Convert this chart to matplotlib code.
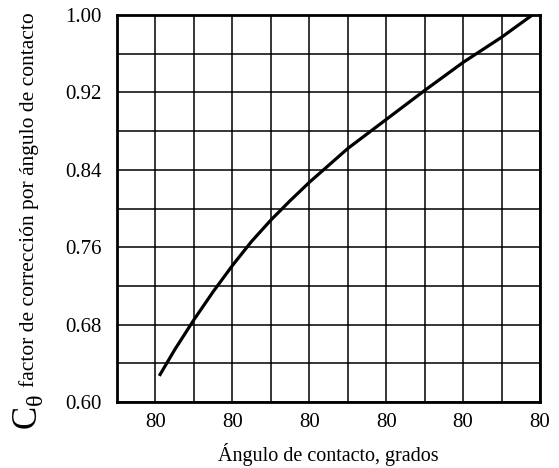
import matplotlib
matplotlib.use('Agg')
import matplotlib.pyplot as plt

plt.rcParams['font.family'] = ['Liberation Serif', 'DejaVu Serif']
plt.rcParams['mathtext.fontset'] = 'custom'
plt.rcParams['mathtext.rm'] = 'Liberation Serif'

# contact angle (deg) vs correction factor
angulo = [81, 85, 90, 95, 100, 105, 110, 115, 120, 130, 140, 150, 160, 170, 178]
c_theta = [0.627, 0.654, 0.685, 0.714, 0.741, 0.766, 0.788, 0.808, 0.827,
           0.862, 0.892, 0.922, 0.951, 0.977, 1.00]

x_ticks = [80, 100, 120, 140, 160, 180]
x_labels = ['80', '80', '80', '80', '80', '80']
y_ticks = [0.60, 0.68, 0.76, 0.84, 0.92, 1.00]
y_labels = ['0.60', '0.68', '0.76', '0.84', '0.92', '1.00']

fig = plt.figure(figsize=(5.59, 4.68), dpi=100)
ax = fig.add_axes([117/559, 1 - 402/468, 423/559, 387/468])

ax.plot(angulo, c_theta, color='black', linewidth=2.3,
        solid_joinstyle='round', solid_capstyle='butt')

ax.set_xlim(70, 180)
ax.set_ylim(0.60, 1.00)
ax.set_xticks(x_ticks)
ax.set_xticklabels(x_labels)
ax.set_xticks(range(70, 181, 10), minor=True)
ax.set_yticks(y_ticks)
ax.set_yticklabels(y_labels)
ax.set_yticks([0.60 + 0.04*i for i in range(11)], minor=True)
ax.grid(True, which='both', color='black', linewidth=1.1)
ax.set_axisbelow(True)
ax.tick_params(which='both', length=0)
ax.tick_params(axis='y', pad=11, labelsize=15)
ax.tick_params(axis='x', pad=8, labelsize=15)
for s in ax.spines.values():
    s.set_linewidth(2.0)
    s.set_color('black')

ax.set_xlabel('Ángulo de contacto, grados', fontsize=14.5, labelpad=8)

# y axis label: big C with theta subscript, then the description
fig.text(28/559, 1 - 412/468, r'C$_{\mathregular{θ}}$', rotation=90,
         fontsize=25, ha='center', va='center')
fig.text(29/559, 1 - 200/468, 'factor de corrección por ángulo de contacto',
         rotation=90, fontsize=15.5, ha='center', va='center')

fig.savefig('out.png', dpi=100)
